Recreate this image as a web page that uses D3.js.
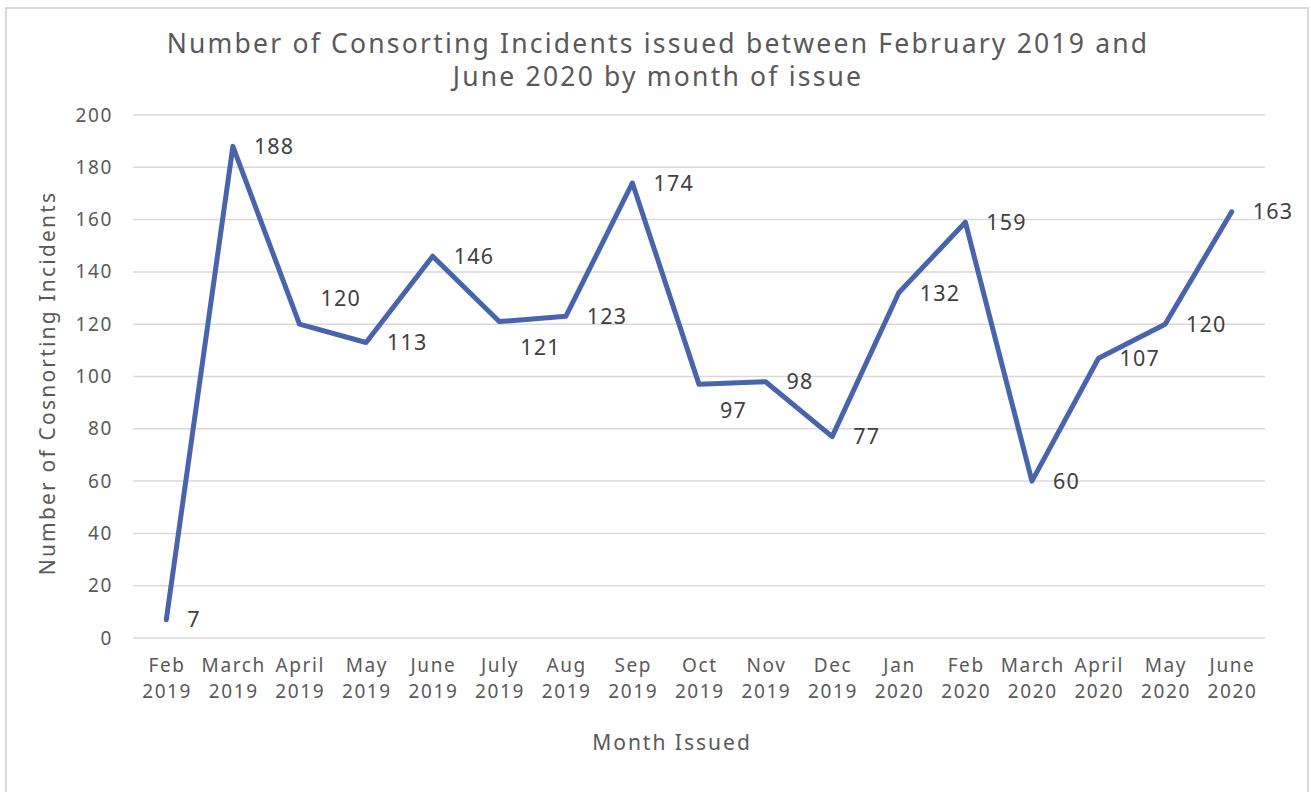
<!DOCTYPE html>
<html><head><meta charset="utf-8">
<script src="https://cdn.jsdelivr.net/npm/d3@7"></script>
<style>
html,body{margin:0;padding:0;background:#fff;}
svg{display:block;font-family:"Noto Sans","Open Sans",sans-serif;}
</style></head>
<body><svg id="c" width="1311" height="792"></svg>
<script>
const months = ["Feb","March","April","May","June","July","Aug","Sep","Oct","Nov","Dec","Jan","Feb","March","April","May","June"];
const years = ["2019","2019","2019","2019","2019","2019","2019","2019","2019","2019","2019","2020","2020","2020","2020","2020","2020"];
const values = [7,188,120,113,146,121,123,174,97,98,77,132,159,60,107,120,163];
const yTicks = [0,20,40,60,80,100,120,140,160,180,200];
// label vertical placement: 0 = centred right, -1 = above-right, 1 = below-right
const labelPlace = [0,0,-1,0,0,1,0,0,1,0,0,0,0,0,0,0,0];

const svg = d3.select("#c");
const W = 1311, H = 792;
const m = {l:133, r:1265, t:115, b:638};
const cats = months.map((d,i)=>i);

svg.append("path").attr("d",`M6,${H} V8 H1308 V${H}`).attr("fill","none").attr("stroke","#d9d9d9").attr("stroke-width",2);

const x = d3.scaleBand().domain(cats).range([m.l,m.r]);
const y = d3.scaleLinear().domain([0,200]).range([m.b,m.t]);

// gridlines
svg.append("g").selectAll("line").data(yTicks).join("line")
  .attr("x1",m.l).attr("x2",m.r).attr("y1",d=>y(d)).attr("y2",d=>y(d))
  .attr("stroke","#d9d9d9").attr("stroke-width",1.5);

// y axis
const ya = svg.append("g").attr("transform",`translate(${m.l},0)`)
  .call(d3.axisLeft(y).tickValues(yTicks).tickSize(0).tickPadding(20));
ya.select(".domain").remove();
ya.selectAll("text").attr("font-size",19).attr("fill","#595959").attr("font-family","Noto Sans")
  .attr("letter-spacing",1.6);

// x axis
const xa = svg.append("g").attr("transform",`translate(0,${m.b})`)
  .call(d3.axisBottom(x).tickSize(0).tickFormat(""));
xa.select(".domain").remove();
xa.selectAll(".tick").each(function(d){
  const t = d3.select(this).append("text").attr("fill","#595959").attr("font-size",19)
    .attr("text-anchor","middle").attr("font-family","Noto Sans").attr("letter-spacing",1.6);
  t.append("tspan").attr("x",0.8).attr("y",34).text(months[d]);
  t.append("tspan").attr("x",0.8).attr("y",60).text(years[d]);
});

// line
const cx = i => x(i)+x.bandwidth()/2;
svg.append("path").datum(values)
  .attr("d",d3.line().x((d,i)=>cx(i)).y(d=>y(d)))
  .attr("fill","none").attr("stroke","#4764ad").attr("stroke-width",5)
  .attr("stroke-linejoin","round").attr("stroke-linecap","round");

// labels
svg.append("g").selectAll("text").data(values).join("text")
  .attr("x",(d,i)=>cx(i)+21)
  .attr("y",(d,i)=>y(d)+labelPlace[i]*26)
  .attr("dy","0.36em")
  .attr("font-size",21.5).attr("fill","#404040").attr("letter-spacing",1.2)
  .text(d=>d);

// title
const tt = svg.append("text").attr("text-anchor","middle").attr("fill","#595959").attr("font-size",26.5)
  .attr("letter-spacing",2.2);
tt.append("tspan").attr("x",658).attr("y",53).text("Number of Consorting Incidents issued between February 2019 and");
tt.append("tspan").attr("x",658).attr("y",86).text("June 2020 by month of issue");

// axis titles
svg.append("text").attr("x",672).attr("y",750).attr("text-anchor","middle")
  .attr("fill","#595959").attr("font-size",21).attr("letter-spacing",2).text("Month Issued");
svg.append("text").attr("transform","translate(55,383) rotate(-90)").attr("text-anchor","middle")
  .attr("fill","#595959").attr("font-size",21).attr("letter-spacing",2.2).text("Number of Cosnorting Incidents");
</script></body></html>
